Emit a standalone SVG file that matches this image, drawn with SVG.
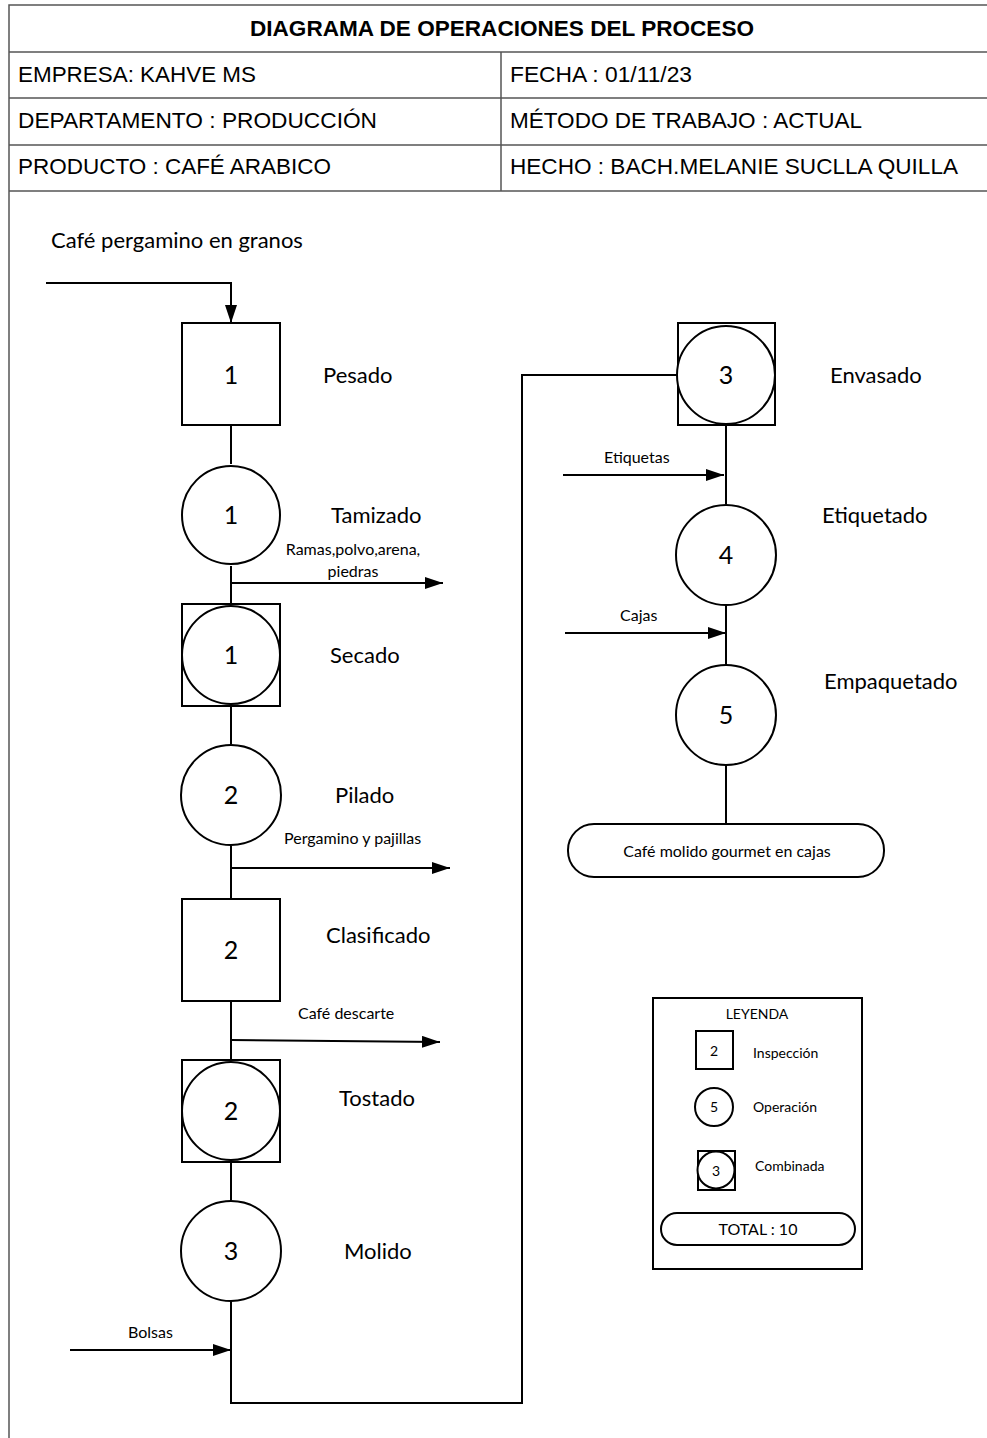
<svg xmlns="http://www.w3.org/2000/svg" width="987" height="1438" viewBox="0 0 987 1438">
<style>
.frame{fill:none;stroke:#555;stroke-width:1.5}
.sh{fill:#fff;stroke:#000;stroke-width:2}
.ln{fill:none;stroke:#000;stroke-width:2}
.hd{font-family:"Liberation Sans Narrow","Liberation Sans",Arial,sans-serif;font-size:22px;fill:#000}
.num{font-family:Lato,"Liberation Sans",sans-serif;font-size:25px;fill:#000;text-anchor:middle;dominant-baseline:central}
.lbl{font-family:Lato,"Liberation Sans",sans-serif;font-size:22px;fill:#000;dominant-baseline:central}
.sm{font-family:Lato,"Liberation Sans",sans-serif;font-size:16px;fill:#000;dominant-baseline:central}
.lg{font-family:Lato,"Liberation Sans",sans-serif;font-size:14px;fill:#000;dominant-baseline:central}
</style>
<defs>
<marker id="ahb" markerWidth="18" markerHeight="12" refX="18" refY="6" orient="auto" markerUnits="userSpaceOnUse">
<path d="M0,0 L18,6 L0,12 Z" fill="#000"/>
</marker>
</defs>
<rect width="987" height="1438" fill="#fff"/>
<g id="header">
<path class="frame" d="M9,1438 V5 H987 M9,52 H987 M9,98 H987 M9,145 H987 M9,191 H987 M501,52 V191"/>
<text class="hd" x="250" y="36" font-weight="bold" textLength="504" lengthAdjust="spacingAndGlyphs">DIAGRAMA DE OPERACIONES DEL PROCESO</text>
<text class="hd" x="18" y="82" textLength="238" lengthAdjust="spacingAndGlyphs">EMPRESA: KAHVE MS</text>
<text class="hd" x="510" y="82" textLength="182" lengthAdjust="spacingAndGlyphs">FECHA : 01/11/23</text>
<text class="hd" x="18" y="128" textLength="359" lengthAdjust="spacingAndGlyphs">DEPARTAMENTO : PRODUCCIÓN</text>
<text class="hd" x="510" y="128" textLength="352" lengthAdjust="spacingAndGlyphs">MÉTODO DE TRABAJO : ACTUAL</text>
<text class="hd" x="18" y="174" textLength="313" lengthAdjust="spacingAndGlyphs">PRODUCTO : CAFÉ ARABICO</text>
<text class="hd" x="510" y="174" textLength="448" lengthAdjust="spacingAndGlyphs">HECHO : BACH.MELANIE SUCLLA QUILLA</text>
</g>
<g id="connectors">
<path class="ln" d="M46,283 H231 V323" marker-end="url(#ahb)"/>
<path class="ln" d="M231,425 V464"/>
<path class="ln" d="M231,566 V604"/>
<path class="ln" d="M231,583 H443" marker-end="url(#ahb)"/>
<path class="ln" d="M231,706 V744"/>
<path class="ln" d="M231,846 V899"/>
<path class="ln" d="M231,868 H450" marker-end="url(#ahb)"/>
<path class="ln" d="M231,1001 V1060"/>
<path class="ln" d="M231,1040 L440,1042" marker-end="url(#ahb)"/>
<path class="ln" d="M231,1162 V1200"/>
<path class="ln" d="M231,1301 V1403 H522 V375 H678"/>
<path class="ln" d="M70,1350 H231" marker-end="url(#ahb)"/>
<path class="ln" d="M726,425 V504"/>
<path class="ln" d="M563,475 H724" marker-end="url(#ahb)"/>
<path class="ln" d="M726,605 V664"/>
<path class="ln" d="M565,633 H726" marker-end="url(#ahb)"/>
<path class="ln" d="M726,765 V824"/>
</g>
<g id="input-label"><text class="lbl" x="51" y="239" font-size="21.5">Café pergamino en granos</text></g>
<g id="pesado">
<rect class="sh" x="182" y="323" width="98" height="102"/>
<text class="num" x="231" y="374">1</text>
<text class="lbl" x="323" y="374">Pesado</text>
</g>
<g id="tamizado">
<circle class="sh" cx="231" cy="515" r="49"/>
<text class="num" x="231" y="514">1</text>
<text class="lbl" x="331" y="514">Tamizado</text>
<text class="sm" x="353" y="548" text-anchor="middle">Ramas,polvo,arena,</text>
<text class="sm" x="353" y="570" text-anchor="middle">piedras</text>
</g>
<g id="secado">
<rect class="sh" x="182" y="604" width="98" height="102"/>
<circle class="sh" cx="231" cy="655" r="49"/>
<text class="num" x="231" y="654">1</text>
<text class="lbl" x="330" y="654">Secado</text>
</g>
<g id="pilado">
<circle class="sh" cx="231" cy="795" r="50"/>
<text class="num" x="231" y="794">2</text>
<text class="lbl" x="335" y="794">Pilado</text>
<text class="sm" x="284" y="837">Pergamino y pajillas</text>
</g>
<g id="clasificado">
<rect class="sh" x="182" y="899" width="98" height="102"/>
<text class="num" x="231" y="949">2</text>
<text class="lbl" x="326" y="934">Clasificado</text>
<text class="sm" x="298" y="1012">Café descarte</text>
</g>
<g id="tostado">
<rect class="sh" x="182" y="1060" width="98" height="102"/>
<circle class="sh" cx="231" cy="1111" r="49"/>
<text class="num" x="231" y="1110">2</text>
<text class="lbl" x="339" y="1097">Tostado</text>
</g>
<g id="molido">
<circle class="sh" cx="231" cy="1251" r="50"/>
<text class="num" x="231" y="1250">3</text>
<text class="lbl" x="344" y="1250">Molido</text>
<text class="sm" x="128" y="1331">Bolsas</text>
</g>
<g id="envasado">
<rect class="sh" x="678" y="323" width="97" height="102"/>
<circle class="sh" cx="726" cy="375" r="49"/>
<text class="num" x="726" y="374">3</text>
<text class="lbl" x="830" y="374">Envasado</text>
<text class="sm" x="604" y="456">Etiquetas</text>
</g>
<g id="etiquetado">
<circle class="sh" cx="726" cy="555" r="50"/>
<text class="num" x="726" y="554">4</text>
<text class="lbl" x="822" y="514">Etiquetado</text>
<text class="sm" x="620" y="614">Cajas</text>
</g>
<g id="empaquetado">
<circle class="sh" cx="726" cy="715" r="50"/>
<text class="num" x="726" y="714">5</text>
<text class="lbl" x="824" y="680">Empaquetado</text>
</g>
<g id="producto-final">
<rect class="sh" x="568" y="824" width="316" height="53" rx="26"/>
<text class="sm" x="727" y="850" text-anchor="middle">Café molido gourmet en cajas</text>
</g>
<g id="leyenda">
<rect class="sh" x="653" y="998" width="209" height="271"/>
<text class="lg" x="757" y="1013" text-anchor="middle">LEYENDA</text>
<rect class="sh" x="696" y="1031" width="37" height="38" stroke-width="1.5"/>
<text class="lg" x="714" y="1050" text-anchor="middle" font-size="15">2</text>
<text class="lg" x="753" y="1052">Inspección</text>
<circle class="sh" cx="714" cy="1107" r="19" stroke-width="1.5"/>
<text class="lg" x="714" y="1106" text-anchor="middle" font-size="15">5</text>
<text class="lg" x="753" y="1106">Operación</text>
<rect class="sh" x="698" y="1151" width="37" height="39" stroke-width="1.5"/>
<circle class="sh" cx="716" cy="1170" r="18.5" stroke-width="1.5"/>
<text class="lg" x="716" y="1170" text-anchor="middle" font-size="15">3</text>
<text class="lg" x="755" y="1165">Combinada</text>
<rect class="sh" x="661" y="1213" width="194" height="32" rx="16" stroke-width="1.5"/>
<text class="sm" x="758" y="1228" text-anchor="middle">TOTAL : 10</text>
</g>
</svg>
